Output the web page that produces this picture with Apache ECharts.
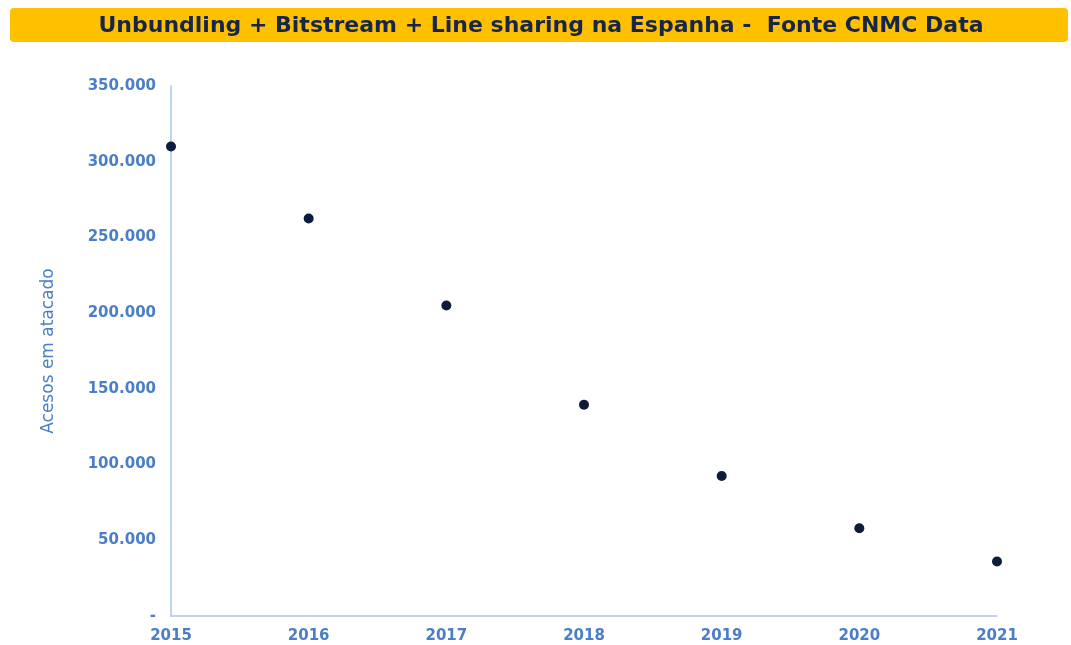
<!DOCTYPE html>
<html>
<head>
<meta charset="utf-8">
<script src="https://cdn.jsdelivr.net/npm/echarts@6/dist/echarts.min.js"></script>
<style>
  html, body { margin: 0; padding: 0; background: #fff; }
  #chart { width: 1071px; height: 645px; }
</style>
</head>
<body>
<div id="chart"></div>
<script>
// anos e acessos
const years = ['2015', '2016', '2017', '2018', '2019', '2020', '2021']
const acessos = [310000, 262500, 205000, 139500, 92500, 58000, 36000]
const yTicks = [0, 50000, 100000, 150000, 200000, 250000, 300000, 350000]

const titleText = 'Unbundling + Bitstream + Line sharing na Espanha -  Fonte CNMC Data'
const labelColor = '#4a7ec8'

function fmt(v) {
  if (v === 0) return '-'
  return String(v).replace(/\B(?=(\d{3})+(?!\d))/g, '.')
}

const chart = echarts.init(document.getElementById('chart'))
chart.setOption({
  animation: false,
  graphic: [{
    type: 'rect',
    shape: { x: 10, y: 8, width: 1058, height: 34, r: 4 },
    style: { fill: '#ffc000' }
  }, {
    type: 'text',
    x: 541,
    y: 26,
    style: {
      text: titleText,
      fill: '#15264a',
      font: 'bold 22px "DejaVu Sans"',
      align: 'center',
      verticalAlign: 'middle'
    }
  }],
  grid: {
    left: 171,
    right: 74,
    top: 86,
    bottom: 29
  },
  xAxis: {
    type: 'category',
    data: years,
    boundaryGap: false,
    axisLine: { lineStyle: { color: '#a9c6ea', width: 1.5 } },
    axisTick: { show: false },
    axisLabel: {
      color: labelColor,
      fontFamily: 'DejaVu Sans',
      fontWeight: 'bold',
      fontSize: 15,
      margin: 13
    },
    splitLine: { show: false }
  },
  yAxis: {
    type: 'value',
    min: 0,
    max: 350000,
    interval: 50000,
    name: 'Acesos em atacado',
    nameLocation: 'middle',
    nameGap: 114,
    nameTextStyle: {
      color: labelColor,
      fontFamily: 'DejaVu Sans',
      fontSize: 17
    },
    axisLine: { show: true, lineStyle: { color: '#a9c6ea', width: 1.5 } },
    axisTick: { show: false },
    splitLine: { show: false },
    axisLabel: {
      color: labelColor,
      fontFamily: 'DejaVu Sans',
      fontWeight: 'bold',
      fontSize: 15,
      margin: 15,
      formatter: v => fmt(v)
    }
  },
  series: [{
    type: 'scatter',
    data: acessos,
    symbolSize: 10,
    itemStyle: { color: '#0d1c3a', opacity: 1 }
  }]
})
</script>
</body>
</html>
